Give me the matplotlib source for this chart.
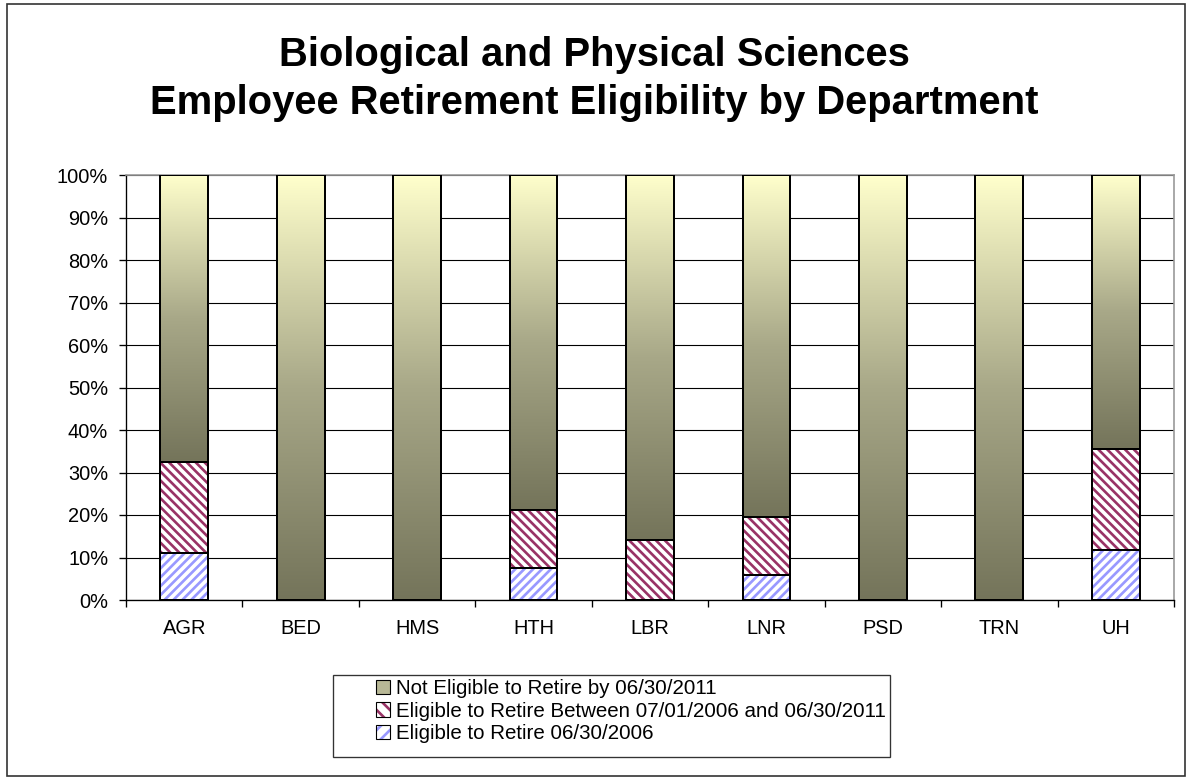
import numpy as np
import matplotlib
matplotlib.use("Agg")
import matplotlib.pyplot as plt
from matplotlib import patches
from matplotlib.colors import LinearSegmentedColormap
from matplotlib.legend_handler import HandlerTuple

plt.rcParams["font.family"] = ["Liberation Sans", "DejaVu Sans"]
plt.rcParams["hatch.linewidth"] = 2.4

DEPARTMENTS = ["AGR", "BED", "HMS", "HTH", "LBR", "LNR", "PSD", "TRN", "UH"]
ELIGIBLE_2006 = [11.0, 0, 0, 7.5, 0, 5.8, 0, 0, 11.8]
ELIGIBLE_2006_2011 = [21.4, 0, 0, 13.6, 14.1, 13.8, 0, 0, 23.8]
NOT_ELIGIBLE = [67.6, 100, 100, 78.9, 85.9, 80.4, 100, 100, 64.4]
Y_TICKS = [0, 10, 20, 30, 40, 50, 60, 70, 80, 90, 100]

LABELS = [
    "Not Eligible to Retire by 06/30/2011",
    "Eligible to Retire Between 07/01/2006 and 06/30/2011",
    "Eligible to Retire 06/30/2006",
]
BLUE = "#9999FF"
RED = "#993366"
GRAD = LinearSegmentedColormap.from_list("olive", ["#74745A", "#A8A888", "#FFFFCC"])

DPI = 80
W, H = 1188, 780
fig = plt.figure(figsize=(W / DPI, H / DPI), dpi=DPI)
ax = fig.add_axes([126 / W, 1 - 600 / H, (1174 - 126) / W, (600 - 175) / H])

x = np.arange(len(DEPARTMENTS))
width = 0.41
lo = np.array(ELIGIBLE_2006, dtype=float)
mid = np.array(ELIGIBLE_2006_2011, dtype=float)
top = np.array(NOT_ELIGIBLE, dtype=float)

# hatched segments (hatch drawn with edgecolor, outline drawn separately)
ax.bar(x, lo, width, color="white", edgecolor=BLUE, hatch="///", linewidth=0, zorder=2)
ax.bar(x, mid, width, bottom=lo, color="white", edgecolor=RED, hatch="\\\\\\", linewidth=0, zorder=2)

# gradient segments
grad = np.linspace(0, 1, 256).reshape(-1, 1)
for xi, b, h in zip(x, lo + mid, top):
    if h <= 0:
        continue
    ax.imshow(grad, extent=[xi - width / 2, xi + width / 2, b, b + h], origin="lower",
              cmap=GRAD, aspect="auto", zorder=2, interpolation="bilinear")

# outlines
for vals, bottoms in [(lo, 0), (mid, lo), (top, lo + mid)]:
    ax.bar(x, vals, width, bottom=bottoms, fill=False, edgecolor="black", linewidth=1.8, zorder=3)

ax.set_xlim(-0.5, len(DEPARTMENTS) - 0.5)
ax.set_ylim(0, 100)
ax.set_yticks(Y_TICKS)
ax.set_yticklabels([f"{t}%" for t in Y_TICKS], fontsize=18)
ax.yaxis.grid(True, color="black", linewidth=1.0, zorder=0)
ax.set_axisbelow(True)

ax.set_xticks(np.arange(len(DEPARTMENTS) + 1) - 0.5)
ax.set_xticklabels([])
ax.set_xticks(x, minor=True)
ax.set_xticklabels(DEPARTMENTS, minor=True, fontsize=18)
ax.tick_params(axis="x", which="minor", length=0, pad=17)
ax.tick_params(axis="x", which="major", length=6, width=1.2, direction="out")
ax.tick_params(axis="y", length=6, width=1.2, direction="out", pad=10)

for s in ["left", "bottom"]:
    ax.spines[s].set_color("black")
    ax.spines[s].set_linewidth(1.2)
for s in ["top", "right"]:
    ax.spines[s].set_color("#999999")
    ax.spines[s].set_linewidth(1.5)

fig.text(0.5, 1 - 66 / H, "Biological and Physical Sciences", ha="center", va="baseline",
         fontsize=36, fontweight="bold")
fig.text(0.5, 1 - 114 / H, "Employee Retirement Eligibility by Department", ha="center", va="baseline",
         fontsize=36, fontweight="bold")

# outer chart border
fig.patches.append(patches.Rectangle((7 / W, 4 / H), 1178 / W, 772 / H, transform=fig.transFigure,
                                     fill=False, edgecolor="#333333", linewidth=1.5))

# legend box (drawn separately: Excel pads the left side more than the right)
fig.patches.append(patches.Rectangle((333 / W, 1 - 757 / H), (890 - 333) / W, (757 - 675) / H,
                                     transform=fig.transFigure, fill=False, edgecolor="#333333",
                                     linewidth=1.2))

outline = dict(fill=False, edgecolor="black", linewidth=1.0)
handles = [
    patches.Patch(facecolor="#B8B896", edgecolor="black", linewidth=1.0),
    (patches.Patch(facecolor="white", edgecolor=RED, hatch="\\\\", linewidth=0), patches.Patch(**outline)),
    (patches.Patch(facecolor="white", edgecolor=BLUE, hatch="//", linewidth=0), patches.Patch(**outline)),
]
leg = fig.legend(handles, LABELS, loc="upper left", bbox_to_anchor=(376 / W, 1 - 679 / H),
                 fontsize=18.5, frameon=False, handler_map={tuple: HandlerTuple(ndivide=1)},
                 handlelength=0.7, handleheight=0.7, handletextpad=0.25, labelspacing=0.18,
                 borderpad=0, borderaxespad=0)

fig.savefig("out.png", dpi=DPI)
